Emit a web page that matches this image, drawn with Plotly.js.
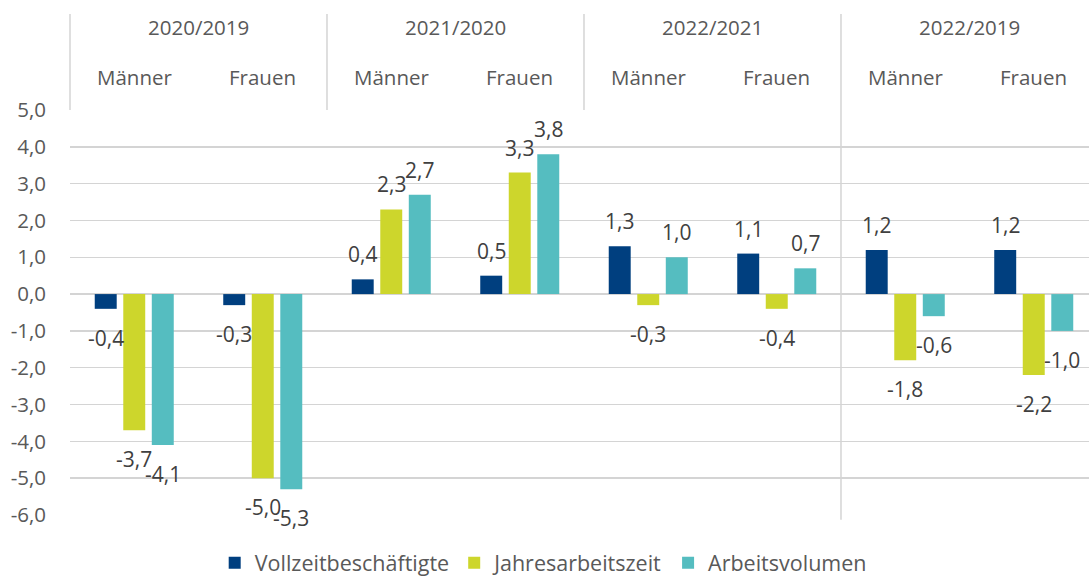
<!DOCTYPE html>
<html>
<head>
<meta charset="utf-8">
<script src="https://cdn.plot.ly/plotly-3.0.1.min.js"></script>
<style>html,body{margin:0;padding:0;background:#fff;}#chart{width:1089px;height:577px;}</style>
</head>
<body>
<div id="chart"></div>
<script>
// ---- data ----
var groups = ["2020/2019", "2021/2020", "2022/2021", "2022/2019"];
var subgroups = ["Männer", "Frauen"];
var seriesNames = ["Vollzeitbeschäftigte", "Jahresarbeitszeit", "Arbeitsvolumen"];
var vollzeit = [-0.4, -0.3, 0.4, 0.5, 1.3, 1.1, 1.2, 1.2];
var jahresarbeitszeit = [-3.7, -5.0, 2.3, 3.3, -0.3, -0.4, -1.8, -2.2];
var arbeitsvolumen = [-4.1, -5.3, 2.7, 3.8, 1.0, 0.7, -0.6, -1.0];
var tickVals = [5, 4, 3, 2, 1, 0, -1, -2, -3, -4, -5, -6];
var tickText = ["5,0", "4,0", "3,0", "2,0", "1,0", "0,0", "-1,0", "-2,0", "-3,0", "-4,0", "-5,0", "-6,0"];
var colors = ["#003f7f", "#cdd62c", "#55bdc0"];

var allSeries = [vollzeit, jahresarbeitszeit, arbeitsvolumen];
var xIdx = vollzeit.map(function(_, i){ return i; });
var xMin = -0.5, xMax = 7.43;
var slot = 0.222;
var FONT = "Open Sans";

function fmt(v){ return (v < 0 ? "-" : "") + Math.abs(v).toFixed(1).replace(".", ","); }

var traces = allSeries.map(function(vals, s){
  return {
    type: "bar", x: xIdx, y: vals, name: seriesNames[s],
    marker: {color: colors[s]}, hoverinfo: "none"
  };
});

var annotations = [];
allSeries.forEach(function(vals, s){
  vals.forEach(function(v, i){
    annotations.push({
      x: i + (s - 1) * slot, y: v, xref: "x", yref: "y",
      text: fmt(v), showarrow: false, xanchor: "center", yanchor: "middle",
      yshift: v >= 0 ? 25 : -29,
      font: {family: FONT, size: 21, color: "#404040"}
    });
  });
});
groups.forEach(function(g, gi){
  annotations.push({
    x: gi * 2 + 0.5, y: 1.205, xref: "x", yref: "paper", text: g, showarrow: false,
    xanchor: "center", yanchor: "middle", font: {family: FONT, size: 20.5, color: "#595959"}
  });
  subgroups.forEach(function(sg, si){
    annotations.push({
      x: gi * 2 + si, y: 1.081, xref: "x", yref: "paper", text: sg, showarrow: false,
      xanchor: "center", yanchor: "middle", font: {family: FONT, size: 20.5, color: "#595959"}
    });
  });
});

function px(v){ return (v - xMin) / (xMax - xMin); }
var lineStyle = {color: "#d4d4d4", width: 1.5};
var shapes = [];
[-0.5, 1.5, 3.5].forEach(function(v){
  shapes.push({type: "line", xref: "paper", yref: "paper", x0: px(v), x1: px(v), y0: 1, y1: 1.237, line: lineStyle});
});
shapes.push({type: "line", xref: "paper", yref: "paper", x0: px(5.5), x1: px(5.5), y0: -0.012, y1: 1.237, line: lineStyle});

var layout = {
  width: 1089, height: 577,
  margin: {l: 70, r: 0, t: 110, b: 62, autoexpand: false},
  paper_bgcolor: "#ffffff", plot_bgcolor: "#ffffff",
  barmode: "group", bargap: 0.334, bargroupgap: 0.23,
  font: {family: FONT, size: 20, color: "#595959"},
  xaxis: {range: [xMin, xMax], showgrid: false, showticklabels: false, zeroline: false, showline: false, ticks: "", fixedrange: true, automargin: false},
  yaxis: {range: [-6, 5], tickvals: tickVals, ticktext: tickText, showgrid: true, gridcolor: "#d4d4d4", gridwidth: 1.5,
          zeroline: false, showline: false, ticks: "", ticklabelstandoff: 23, automargin: false,
          tickfont: {family: FONT, size: 20.5, color: "#595959"}, fixedrange: true},
  showlegend: true,
  legend: {orientation: "h", x: 0.142, xanchor: "left", y: -0.118, yanchor: "middle",
           font: {family: FONT, size: 21.5, color: "#595959"}, itemwidth: 30, traceorder: "normal"},
  annotations: annotations,
  shapes: shapes
};

Plotly.newPlot("chart", traces, layout, {displayModeBar: false, staticPlot: true});
</script>
</body>
</html>
